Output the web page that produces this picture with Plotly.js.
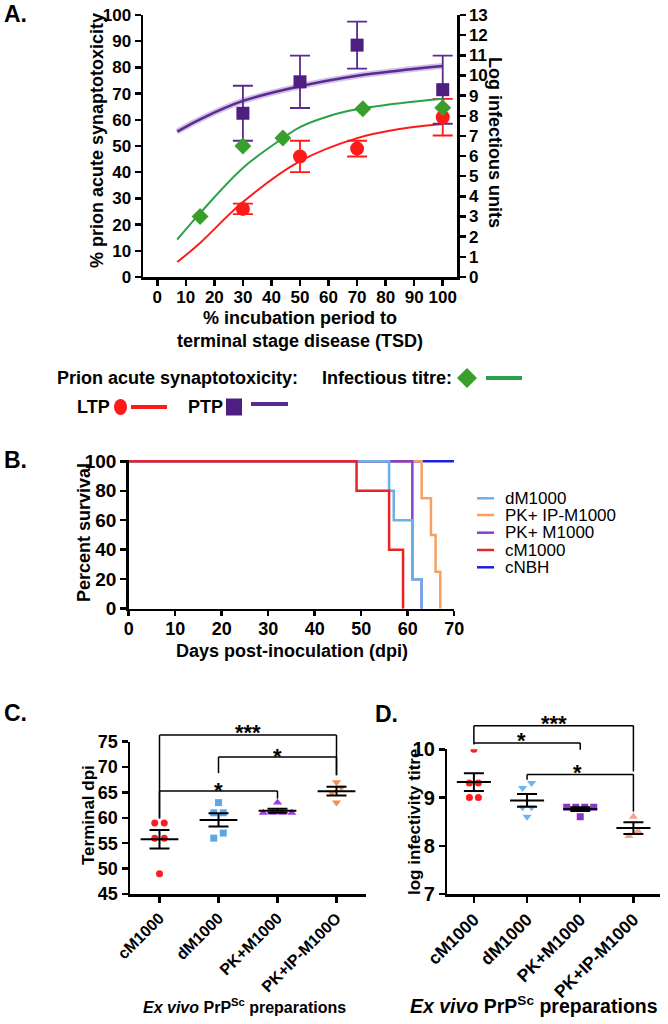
<!DOCTYPE html>
<html><head><meta charset="utf-8">
<script src="https://cdn.plot.ly/plotly-3.0.1.min.js"></script>
<style>html,body{margin:0;padding:0;background:#fff}#plot{width:668px;height:1024px}</style>
</head><body><div id="plot"></div>
<script>
// ================= DATA =================
// Panel A: % incubation period vs synaptotoxicity / infectious titre
const incubPct   = [30, 50, 70, 100];
const ltpMean    = [26, 46, 49, 61];
const ltpErr     = [2, 6, 3, 7];
const ptpMean    = [62.5, 74.5, 88.5, 71.5];
const ptpErr     = [10.5, 10, 9, 13];
const titreX     = [15, 30, 44, 72, 100];
const titreLog   = [3.0, 6.5, 6.9, 8.35, 8.4];
// fitted curves
const fitX       = [7, 15, 30, 50, 70, 85, 100];
const ltpFit     = [5.7, 13, 28.6, 44.2, 53, 56.5, 58.4];
const ptpFit     = [55.5, 60.2, 67.2, 72.8, 76.8, 78.8, 80.5];
const titreFitX  = [7, 15, 30, 44, 50, 60, 70, 85, 100];
const titreFit   = [1.86, 3.17, 5.41, 6.89, 7.44, 7.98, 8.32, 8.62, 8.84];
const xTicksA    = [0,10,20,30,40,50,60,70,80,90,100];

// Panel B: survival (Kaplan-Meier steps)
const survNames  = ['dM1000', 'PK+ IP-M1000', 'PK+ M1000', 'cM1000', 'cNBH'];
const dM1000Days = [0, 56, 57, 61, 63];   const dM1000Surv = [100, 80, 60, 20, 0];
const pkIpDays   = [0, 63, 65, 66, 67];   const pkIpSurv   = [100, 75, 50, 25, 0];
const pkDays     = [0, 61, 63];           const pkSurv     = [100, 20, 0];
const cM1000Days = [0, 49, 56, 59];       const cM1000Surv = [100, 80, 40, 0];
const cNBHDays   = [0, 70];               const cNBHSurv   = [100, 100];

// Panel C: terminal dpi
const catsC      = ['cM1000', 'dM1000', 'PK+M1000', 'PK+IP-M100O'];
const dpi_cM1000 = [59, 59, 56, 56, 49];
const dpi_dM1000 = [63, 61, 61, 57, 56];
const dpi_pk     = [61, 61, 61, 61, 63];
const dpi_pkIp   = [67, 66, 65, 63];

// Panel D: log infectivity titre
const catsD        = ['cM1000', 'dM1000', 'PK+M1000', 'PK+IP-M1000'];
const titre_cM1000 = [10.0, 9.3, 9.3, 9.0, 9.0];
const titre_dM1000 = [9.3, 9.2, 8.8, 8.8, 8.6];
const titre_pk     = [8.8, 8.8, 8.8, 8.8, 8.6];
const titre_pkIp   = [8.6, 8.3, 8.2];

// ================= STYLE / LAYOUT =================
const W = 668, H = 1024;
const FONT = 'Liberation Sans, Arial, Helvetica, sans-serif';
const px = x => x / W, py = y => 1 - y / H;

const RED = '#ff1a1a', PURPLE = '#4e1f80', GREEN = '#38a02a', GREENL = '#2aa14a';
const colB = {'dM1000':'#6cb0ea','PK+ IP-M1000':'#f7a060','PK+ M1000':'#8b3fc9','cM1000':'#e82424','cNBH':'#1f1fe0'};
const colC = ['#ff1c1c', '#5aa8ec', '#9a3fd8', '#f58f4a'];
const symC = ['circle', 'square', 'triangle-up', 'triangle-down'];
const colD = ['#ff1c1c', '#70b4f0', '#8a35c8', '#f8a385'];
const symD = ['circle', 'triangle-down', 'square', 'triangle-up'];

function ax(extra, fs) {
  return Object.assign({showline:true, linecolor:'#000', linewidth:2.5, ticks:'outside', ticklen:6,
    tickwidth:2.5, tickcolor:'#000', showgrid:false, zeroline:false, fixedrange:true,
    tickfont:{family:FONT, size:fs || 16, color:'#000', weight:700}}, extra);
}

// domains (pixel -> paper)
const domA_x = [px(143), px(457)], domA_y = [py(277), py(15)];
const domB_x = [px(128.7), px(454.2)], domB_y = [py(608.7), py(459.8)];
const domC_x = [px(130), px(366)], domC_y = [py(894), py(741.7)];
const domD_x = [px(447.3), px(660)], domD_y = [py(894), py(749.3)];
const rangeC = [45, 75], rangeD = [7, 10];

// helpers
const mean = a => a.reduce((s, v) => s + v, 0) / a.length;
const sem = a => { const m = mean(a); return Math.sqrt(a.reduce((s, v) => s + (v - m) ** 2, 0) / (a.length - 1)) / Math.sqrt(a.length); };
function swarm(vals, pxPerUnit, pxPerCat, thr, spacing) {
  const idx = vals.map((v, i) => i).sort((a, b) => vals[a] - vals[b]);
  const off = new Array(vals.length).fill(0);
  let row = [];
  const flush = () => row.forEach((k, j) => off[k] = (j - (row.length - 1) / 2) * spacing / pxPerCat);
  idx.forEach(k => {
    if (row.length && (vals[k] - vals[row[0]]) * pxPerUnit > thr) { flush(); row = []; }
    row.push(k);
  });
  flush();
  return off;
}

const traces = [];

// ---------- Panel A ----------
traces.push({x: fitX, y: ptpFit, xaxis:'x', yaxis:'y', mode:'lines', line:{color:'rgba(150,120,200,0.45)', width:6, shape:'spline', smoothing:1}, hoverinfo:'skip'});
traces.push({x: fitX, y: ptpFit, xaxis:'x', yaxis:'y', mode:'lines', line:{color:'#5b2a90', width:2.5, shape:'spline', smoothing:1}});
traces.push({x: fitX, y: ltpFit, xaxis:'x', yaxis:'y', mode:'lines', line:{color:RED, width:2, shape:'spline', smoothing:1}});
traces.push({x: titreFitX, y: titreFit, xaxis:'x', yaxis:'y2', mode:'lines', line:{color:GREENL, width:2, shape:'spline', smoothing:1}});
traces.push({x: incubPct, y: ptpMean, xaxis:'x', yaxis:'y', mode:'markers',
  marker:{symbol:'square', size:13, color:PURPLE},
  error_y:{type:'data', array:ptpErr, visible:true, color:'#5b2a90', thickness:1.8, width:10}});
traces.push({x: incubPct, y: ltpMean, xaxis:'x', yaxis:'y', mode:'markers',
  marker:{symbol:'circle', size:14, color:RED},
  error_y:{type:'data', array:ltpErr, visible:true, color:RED, thickness:1.8, width:10}});
traces.push({x: titreX, y: titreLog, xaxis:'x', yaxis:'y2', mode:'markers',
  marker:{symbol:'diamond', size:13, color:GREEN}});

// ---------- Panel B ----------
const survSets = [
  ['cNBH', cNBHDays, cNBHSurv], ['PK+ IP-M1000', pkIpDays, pkIpSurv], ['PK+ M1000', pkDays, pkSurv],
  ['dM1000', dM1000Days, dM1000Surv], ['cM1000', cM1000Days, cM1000Surv]];
survSets.forEach(([n, d, s]) => traces.push({x: d, y: s, xaxis:'x2', yaxis:'y3', mode:'lines', name:n,
  line:{color:colB[n], width:2.5, shape:'hv'}}));

// ---------- Panels C & D (scatter + mean ± SEM) ----------
function dotPanel(groups, cats, cols, syms, xa, ya, dom_x, dom_y, range, sizes, spacing) {
  const pxPerUnit = (dom_y[1] - dom_y[0]) * H / (range[1] - range[0]);
  const pxPerCat = (dom_x[1] - dom_x[0]) * W / 4;
  groups.forEach((vals, i) => {
    const off = swarm(vals, pxPerUnit, pxPerCat, 7, spacing);
    traces.push({x: vals.map((v, k) => i + off[k]), y: vals, xaxis:xa, yaxis:ya, mode:'markers', name:cats[i],
      marker:{symbol:syms[i], size:sizes[i], color:cols[i]}});
  });
  groups.forEach((vals, i) => {
    const m = mean(vals);
    traces.push({x:[i - 0.32, i + 0.32], y:[m, m], xaxis:xa, yaxis:ya, mode:'lines', line:{color:'#000', width:2}});
    traces.push({x:[i], y:[m], xaxis:xa, yaxis:ya, mode:'markers', marker:{size:1, opacity:0},
      error_y:{type:'data', array:[sem(vals)], visible:true, color:'#000', thickness:2, width:10}});
  });
}
dotPanel([dpi_cM1000, dpi_dM1000, dpi_pk, dpi_pkIp], catsC, colC, symC, 'x3', 'y4', domC_x, domC_y, rangeC, [7,7,8,8], 9.5);
dotPanel([titre_cM1000, titre_dM1000, titre_pk, titre_pkIp], catsD, colD, symD, 'x4', 'y5', domD_x, domD_y, rangeD, [7,8,7,8], 9);

// ---------- significance brackets ----------
// [from, to, lineY, leftBottom, rightBottom, label, labelX, labelY]
const sigC = [[0, 3, 76.3, 59.9, 68.4, '***', 1.5, 77.9], [1, 3, 72.0, 68.8, 68.4, '*', 2, 73.2], [0, 2, 65.3, 59.9, 63.8, '*', 1, 66.6]];
const sigD = [[0, 3, 10.49, 10.13, 9.54, '***', 1.5, 10.66], [0, 2, 10.13, 10.1, 9.99, '*', 0.9, 10.3], [1, 3, 9.48, 9.37, 8.71, '*', 1.95, 9.64]];
const shapes = [], annotations = [];
function brackets(sig, xa, ya, range) {
  const d = v => (v - range[0]) / (range[1] - range[0]);
  sig.forEach(([a, b, yl, yb0, yb1, lab, lx, ly]) => {
    const base = {type:'line', xref:xa, yref:ya + ' domain', line:{color:'#000', width:1.5}};
    shapes.push(Object.assign({x0:a, x1:a, y0:d(yb0), y1:d(yl)}, base));
    shapes.push(Object.assign({x0:a, x1:b, y0:d(yl), y1:d(yl)}, base));
    shapes.push(Object.assign({x0:b, x1:b, y0:d(yl), y1:d(yb1)}, base));
    annotations.push({xref:xa, yref:ya + ' domain', x:lx, y:d(ly), text:lab, showarrow:false, yshift:-6,
      font:{family:FONT, size:22, color:'#000', weight:700}, xanchor:'center', yanchor:'middle'});
  });
}
brackets(sigC, 'x3', 'y4', rangeC);
brackets(sigD, 'x4', 'y5', rangeD);

// ---------- text annotations ----------
function txt(text, x, y, size, opts) {
  annotations.push(Object.assign({xref:'paper', yref:'paper', x:px(x), y:py(y), text:text, showarrow:false,
    xanchor:'center', yanchor:'middle', font:{family:FONT, size:size, color:'#000', weight:700}}, opts || {}));
}
txt('A.', 2, 14, 23, {xanchor:'left'});
txt('B.', 2, 460, 23, {xanchor:'left'});
txt('C.', 2, 713, 23, {xanchor:'left'});
txt('D.', 373, 714, 23, {xanchor:'left'});
// panel A titles
txt('% prion acute synaptotoxicity', 97, 141, 18, {textangle:-90});
txt('Log infectious units', 495, 142, 18, {textangle:90});
txt('% incubation period to<br>terminal stage disease (TSD)', 300, 329, 18);
// panel A legend
txt('Prion acute synaptotoxicity:', 55, 378, 18, {xanchor:'left'});
txt('Infectious titre:', 320, 378, 18, {xanchor:'left'});
txt('LTP', 75, 407, 18, {xanchor:'left'});
txt('PTP', 186, 407, 18, {xanchor:'left'});
shapes.push({type:'path', xref:'paper', yref:'paper', fillcolor:GREEN, line:{width:0},
  path:`M ${px(467)} ${py(368)} L ${px(477)} ${py(378)} L ${px(467)} ${py(388)} L ${px(457)} ${py(378)} Z`});
shapes.push({type:'line', xref:'paper', yref:'paper', x0:px(486), x1:px(522), y0:py(378), y1:py(378), line:{color:GREENL, width:4}});
shapes.push({type:'circle', xref:'paper', yref:'paper', x0:px(114), x1:px(127), y0:py(399), y1:py(415), fillcolor:RED, line:{width:0}});
shapes.push({type:'line', xref:'paper', yref:'paper', x0:px(131), x1:px(167), y0:py(407), y1:py(407), line:{color:RED, width:4}});
shapes.push({type:'rect', xref:'paper', yref:'paper', x0:px(226), x1:px(242), y0:py(398.5), y1:py(415.5), fillcolor:PURPLE, line:{width:0}});
shapes.push({type:'line', xref:'paper', yref:'paper', x0:px(251), x1:px(288), y0:py(404), y1:py(404), line:{color:'#5b2a90', width:4}});
// panel B titles & legend
txt('Percent survival', 84, 533, 18, {textangle:-90});
txt('Days post-inoculation (dpi)', 292, 651, 18);
const legY = [498.3, 515, 532.7, 550, 567.3];
survNames.forEach((n, i) => {
  shapes.push({type:'line', xref:'paper', yref:'paper', x0:px(477), x1:px(494), y0:py(legY[i]), y1:py(legY[i]), line:{color:colB[n], width:2.5}});
  txt(n, 503, legY[i], 17, {xanchor:'left', font:{family:FONT, size:17, color:'#000', weight:400}});
});
// panel C / D titles
txt('Terminal dpi', 88, 815, 17, {textangle:-90});
txt('<i>Ex vivo</i> PrP<sup>Sc</sup> preparations', 245, 1006, 16);
txt('log infectivity titre', 414, 822, 17, {textangle:-90});
txt('<i>Ex vivo</i> PrP<sup>Sc</sup> preparations', 534, 1005, 19.5);

const layout = {
  width: W, height: H, margin:{l:0, r:0, t:0, b:0}, paper_bgcolor:'#fff', plot_bgcolor:'rgba(0,0,0,0)',
  showlegend:false, font:{family:FONT, color:'#000'},
  xaxis: ax({domain:domA_x, range:[-5, 105], tickvals:xTicksA, anchor:'y', ticklabelstandoff:-3}, 17),
  yaxis: ax({domain:domA_y, range:[0, 100], dtick:10, tick0:0, anchor:'x'}, 17),
  yaxis2: ax({overlaying:'y', side:'right', range:[0, 13], dtick:1, tick0:0, anchor:'x'}, 17),
  xaxis2: ax({domain:domB_x, range:[0, 70], dtick:10, tick0:0, anchor:'y3', ticklen:5, ticklabelstandoff:-3}, 18),
  yaxis3: ax({domain:domB_y, range:[0, 101], tickvals:[0,20,40,60,80,100], anchor:'x2'}, 19),
  xaxis3: ax({domain:domC_x, range:[-0.5, 3.5], tickvals:[0,1,2,3], ticktext:catsC, tickangle:-45, anchor:'y4'}, 16),
  yaxis4: ax({domain:domC_y, range:rangeC, dtick:5, tick0:45, anchor:'x3'}, 18),
  xaxis4: ax({domain:domD_x, range:[-0.5, 3.5], tickvals:[0,1,2,3], ticktext:catsD, tickangle:-45, anchor:'y5'}, 17.5),
  yaxis5: ax({domain:domD_y, range:rangeD, dtick:1, tick0:7, anchor:'x4'}, 20),
  shapes: shapes, annotations: annotations
};
Plotly.newPlot('plot', traces, layout, {staticPlot:true, displayModeBar:false});
</script></body></html>
